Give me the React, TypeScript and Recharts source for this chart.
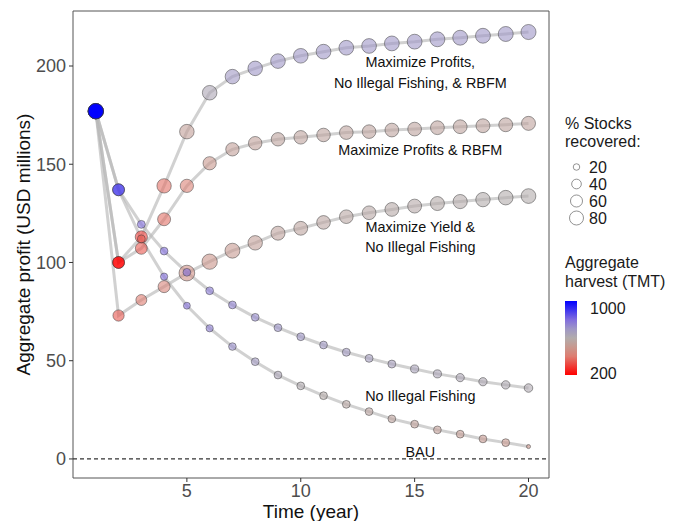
import React from 'react';
import {
  ComposedChart,
  Line,
  XAxis,
  YAxis,
  ReferenceLine,
  ReferenceDot,
  ReferenceArea,
  Label,
} from 'recharts';

const years = [1, 2, 3, 4, 5, 6, 7, 8, 9, 10, 11, 12, 13, 14, 15, 16, 17, 18, 19, 20];

// Maximize Profits, No Illegal Fishing, & RBFM
const profitTop = [177, 100, 113, 139, 166.6, 186.4, 194.6, 198.8, 202.5, 205.2, 207.3, 209.3, 210.2, 211.5, 212.4, 213.6, 214.4, 215.4, 216.3, 217.3];
const harvestTop = [1000, 200, 300, 380, 530, 630, 690, 700, 700, 700, 700, 700, 700, 700, 700, 700, 700, 700, 700, 700];
const stocksTop = [95, 59, 62, 84, 86, 86, 86, 86, 87, 87, 88, 88, 88, 89, 89, 90, 90, 90, 91, 92];

// Maximize Profits & RBFM
const profitRbfm = [177, 100, 107.2, 122, 139, 150.5, 157.6, 160.7, 162.7, 163.7, 164.9, 166.1, 166.6, 167.4, 167.9, 168.6, 169.1, 169.6, 170.1, 170.8];
const harvestRbfm = [1000, 200, 340, 380, 420, 500, 530, 540, 550, 550, 550, 550, 550, 550, 550, 550, 550, 550, 550, 545];
const stocksRbfm = [95, 59, 59, 69, 72, 72, 73, 74, 74, 75, 75, 76, 76, 77, 77, 78, 78, 79, 79, 80];

// Maximize Yield & No Illegal Fishing
const profitYield = [177, 73, 80.9, 87.7, 94.6, 100.4, 106, 110, 114.9, 117.4, 120.4, 123.3, 125.3, 127, 128.7, 130, 131, 132, 133, 133.8];
const harvestYield = [1000, 340, 400, 430, 470, 490, 510, 530, 545, 555, 565, 570, 575, 580, 585, 590, 592, 595, 597, 600];
const stocksYield = [95, 53, 50, 60, 100, 95, 90, 85, 80, 78, 76, 76, 77, 78, 79, 80, 82, 84, 86, 88];

// No Illegal Fishing (upper decline)
const profitNoIuu = [177, 137, 119.4, 105.8, 95, 85.6, 78.4, 72.1, 66.8, 62.2, 58, 54.3, 51.2, 48.3, 45.8, 43.3, 41.4, 39.3, 37.7, 36.1];
const harvestNoIuu = [1000, 880, 800, 800, 790, 770, 750, 730, 710, 700, 690, 680, 670, 660, 650, 640, 630, 625, 620, 615];
const stocksNoIuu = [95, 59, 28, 27, 27, 27, 27, 27, 27, 27, 27, 28, 28, 28, 29, 29, 30, 30, 31, 32];

// BAU trajectory (lower decline)
const profitBau = [177, 137, 112, 92.8, 78, 66.5, 57.2, 49.5, 42.7, 37.2, 32.2, 27.8, 24.1, 20.4, 17.7, 14.8, 12.6, 10.2, 8.3, 6.3];
const harvestBau = [1000, 880, 350, 800, 790, 760, 720, 680, 640, 610, 590, 570, 560, 550, 540, 530, 520, 510, 500, 490];
const stocksBau = [95, 59, 28, 24, 22, 24, 26, 27, 27, 27, 27, 27, 27, 27, 27, 27, 27, 27, 27, 10];

const yTicks = [0, 50, 100, 150, 200];
const xTicks = [5, 10, 15, 20];
const sizeKeys = [20, 40, 60, 80];
const harvestRange = [200, 1000];

const annotations = [
  { text: 'Maximize Profits,', x: 15.25, y: 202.2 },
  { text: 'No Illegal Fishing, & RBFM', x: 15.25, y: 191.5 },
  { text: 'Maximize Profits & RBFM', x: 15.25, y: 157.3 },
  { text: 'Maximize Yield &', x: 15.25, y: 118.1 },
  { text: 'No Illegal Fishing', x: 15.25, y: 107.9 },
  { text: 'No Illegal Fishing', x: 15.25, y: 32 },
  { text: 'BAU', x: 15.25, y: 3.6 },
];

const xDomain: [number, number] = [0, 20.9];
const yDomain: [number, number] = [-9.7, 228];
const FONT = '"Liberation Sans", Arial, Helvetica, sans-serif';

const colorStops: [number, number[]][] = [
  [200, [255, 0, 0]],
  [400, [222, 124, 112]],
  [500, [200, 152, 142]],
  [600, [178, 172, 172]],
  [700, [158, 150, 198]],
  [800, [128, 108, 222]],
  [1000, [0, 0, 255]],
];

const harvestColor = (h: number): string => {
  for (let i = 0; i < colorStops.length - 1; i++) {
    const [a, ca] = colorStops[i];
    const [b, cb] = colorStops[i + 1];
    if (h <= b || i === colorStops.length - 2) {
      const t = Math.max(0, Math.min(1, (h - a) / (b - a)));
      const c = ca.map((v, k) => Math.round(v + (cb[k] - v) * t));
      return `rgb(${c[0]},${c[1]},${c[2]})`;
    }
  }
  return 'gray';
};

// point radius from % stocks recovered (area scale)
const stockRadius = (s: number) => Math.sqrt(Math.max(2.57 * s - 9, 4)) / 2;

const makeSeries = (name: string, profit: number[], harvest: number[], stocks: number[]) => ({
  name,
  data: years.map((t, i) => ({ t, profit: profit[i], harvest: harvest[i], stocks: stocks[i] })),
});

const series = [
  makeSeries('top', profitTop, harvestTop, stocksTop),
  makeSeries('rbfm', profitRbfm, harvestRbfm, stocksRbfm),
  makeSeries('yield', profitYield, harvestYield, stocksYield),
  makeSeries('noiuu', profitNoIuu, harvestNoIuu, stocksNoIuu),
  makeSeries('bau', profitBau, harvestBau, stocksBau),
];

const renderDot = (name: string) => (props: any) => {
  const { cx, cy, payload, index } = props;
  if (cx == null || cy == null) return <g key={`${name}-${index}`} />;
  return (
    <circle
      key={`${name}-${index}`}
      cx={cx}
      cy={cy}
      r={stockRadius(payload.stocks)}
      fill={harvestColor(payload.harvest)}
      fillOpacity={0.6}
      stroke="#3a3a3a"
      strokeOpacity={0.7}
      strokeWidth={0.7}
    />
  );
};

const Legend = () => {
  const barTop = 301;
  const barBottom = 375;
  const keyY = [167, 184, 201, 218];
  return (
    <svg width={673} height={521} style={{ position: 'absolute', left: 0, top: 0, pointerEvents: 'none' }}>
      <defs>
        <linearGradient id="harvestGrad" x1="0" y1="1" x2="0" y2="0">
          {colorStops.map(([h, c]) => (
            <stop
              key={h}
              offset={(h - harvestRange[0]) / (harvestRange[1] - harvestRange[0])}
              stopColor={`rgb(${c[0]},${c[1]},${c[2]})`}
            />
          ))}
        </linearGradient>
      </defs>
      <g fontFamily={FONT} fontSize={16} fill="#1a1a1a">
        <text x={565} y={129}>% Stocks</text>
        <text x={565} y={147}>recovered:</text>
        {sizeKeys.map((k, i) => (
          <g key={k}>
            <circle cx={576.5} cy={keyY[i]} r={stockRadius(k)} fill="white" stroke="#777" strokeWidth={0.8} />
            <text x={589} y={keyY[i]} dy="0.36em">{k}</text>
          </g>
        ))}
        <text x={565} y={268}>Aggregate</text>
        <text x={565} y={287}>harvest (TMT)</text>
        <rect x={565} y={barTop} width={12} height={barBottom - barTop} fill="url(#harvestGrad)" />
        <text x={590} y={barTop + 7} dy="0.36em">{harvestRange[1]}</text>
        <text x={590} y={barBottom - 2} dy="0.36em">{harvestRange[0]}</text>
      </g>
    </svg>
  );
};

export default function App() {
  return (
    <div style={{ position: 'absolute', left: 0, top: 0, width: 673, height: 521, background: 'white' }}>
      <ComposedChart
        width={673}
        height={521}
        margin={{ top: 11, right: 124, bottom: 0, left: 0 }}
      >
        <XAxis
          dataKey="t"
          type="number"
          domain={xDomain}
          ticks={xTicks}
          allowDataOverflow
          axisLine={false}
          tickSize={4}
          tickMargin={2}
          tickLine={{ stroke: '#333' }}
          tick={{ fill: '#4d4d4d', fontSize: 18, fontFamily: FONT }}
          height={43}
        >
          <Label
            content={({ viewBox }: any) => (
              <text
                x={viewBox.x + viewBox.width / 2}
                y={511}
                dy="0.36em"
                textAnchor="middle"
                fontSize={19}
                fontFamily={FONT}
                fill="#111"
              >
                Time (year)
              </text>
            )}
          />
        </XAxis>
        <YAxis
          type="number"
          domain={yDomain}
          ticks={yTicks}
          allowDataOverflow
          axisLine={false}
          width={73}
          tickSize={4}
          tickMargin={3}
          tickLine={{ stroke: '#333' }}
          tick={{ fill: '#4d4d4d', fontSize: 18, fontFamily: FONT }}
        >
          <Label
            content={({ viewBox }: any) => {
              const cy = viewBox.y + viewBox.height / 2;
              return (
                <text
                  x={23}
                  y={cy}
                  dy="0.36em"
                  textAnchor="middle"
                  fontSize={19}
                  fontFamily={FONT}
                  fill="#111"
                  transform={`rotate(-90, 23, ${cy})`}
                >
                  Aggregate profit (USD millions)
                </text>
              );
            }}
          />
        </YAxis>
        <ReferenceArea
          x1={xDomain[0]}
          x2={xDomain[1]}
          y1={yDomain[0]}
          y2={yDomain[1]}
          fill="none"
          stroke="#555"
          strokeWidth={1}
          ifOverflow="visible"
        />
        <ReferenceLine y={0} stroke="#333" strokeWidth={1.2} strokeDasharray="4 3" />
        {series.map((s) => (
          <Line
            key={`line-${s.name}`}
            data={s.data}
            dataKey="profit"
            type="linear"
            stroke="#b8b8b8"
            strokeOpacity={0.65}
            strokeWidth={3}
            dot={false}
            activeDot={false}
            isAnimationActive={false}
          />
        ))}
        {series.map((s) => (
          <Line
            key={`dots-${s.name}`}
            data={s.data}
            dataKey="profit"
            type="linear"
            stroke="none"
            strokeWidth={0}
            dot={renderDot(s.name)}
            activeDot={false}
            isAnimationActive={false}
          />
        ))}
        {annotations.map((a, i) => (
          <ReferenceDot
            key={`ann-${i}`}
            x={a.x}
            y={a.y}
            r={0}
            ifOverflow="visible"
            shape={(p: any) => (
              <text
                x={p.cx}
                y={p.cy}
                dy="0.36em"
                textAnchor="middle"
                fontSize={14.4}
                fontFamily={FONT}
                fill="#111"
              >
                {a.text}
              </text>
            )}
          />
        ))}
      </ComposedChart>
      <Legend />
    </div>
  );
}
